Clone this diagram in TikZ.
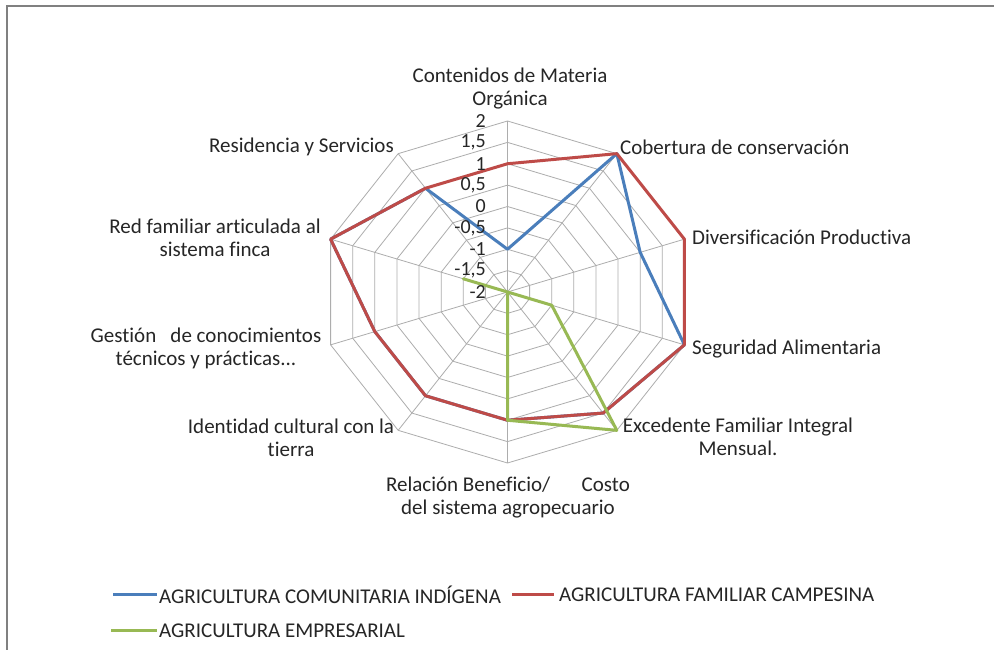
\documentclass[tikz,border=0pt]{standalone}
\usepackage{fontspec}
\setmainfont{Carlito}[Ligatures={NoCommon}]
\definecolor{serblue}{HTML}{4A7EBB}
\definecolor{serred}{HTML}{BE4B48}
\definecolor{sergreen}{HTML}{98B954}
\definecolor{gridc}{HTML}{ADADAD}
\definecolor{framec}{HTML}{808080}
\tikzset{
  gridline/.style={draw=gridc, line width=0.8pt},
  series/.style={line width=3pt, line join=round, line cap=round},
  cat/.style={font=\fontsize{21}{23}\selectfont, text=black!85, inner sep=0pt, align=center},
  tick/.style={font=\fontsize{20}{21}\selectfont, text=black!85, inner sep=0pt, anchor=east},
  legtext/.style={font=\fontsize{21}{22}\selectfont, text=black!85, inner sep=0pt, anchor=west},
}
\begin{document}
\begin{tikzpicture}[x=1pt,y=-1pt]
\useasboundingbox (0,0) rectangle (994,650);
\fill[white] (0,0) rectangle (994,650);
\def\cx{507.5}\def\cy{292}\def\rx{186}\def\ry{171}
\coordinate (O) at (\cx,\cy);
% grid rings
\foreach \k in {1,...,8}{
  \draw[gridline] ({\cx},{\cy-\ry*\k/8})
    \foreach \i in {1,...,9}{ -- ({\cx+\rx*\k/8*sin(36*\i)},{\cy-\ry*\k/8*cos(36*\i)}) } -- cycle;
}
% spokes
\foreach \i in {0,...,9}{
  \coordinate (A\i) at ({\cx+\rx*sin(36*\i)},{\cy-\ry*cos(36*\i)});
  \draw[gridline] (O) -- (A\i);
}
% series coordinates
\foreach \v [count=\i from 0] in {-1,2,1,2,1.5,1,1,1,2,1}{
  \coordinate (B\i) at ({\cx+\rx*(\v+2)/4*sin(36*\i)},{\cy-\ry*(\v+2)/4*cos(36*\i)});
}
\foreach \v [count=\i from 0] in {1,2,2,2,1.5,1,1,1,2,1}{
  \coordinate (R\i) at ({\cx+\rx*(\v+2)/4*sin(36*\i)},{\cy-\ry*(\v+2)/4*cos(36*\i)});
}
\foreach \v [count=\i from 0] in {-2,-2,-2,-1,2,1,-2,-2,-1,-2}{
  \coordinate (G\i) at ({\cx+\rx*(\v+2)/4*sin(36*\i)},{\cy-\ry*(\v+2)/4*cos(36*\i)});
}
\draw[series, serblue] (B0) \foreach \i in {1,...,9}{ -- (B\i) } -- cycle;
\draw[series, serred] (R0) \foreach \i in {1,...,9}{ -- (R\i) } -- cycle;
\draw[series, sergreen] (G0) \foreach \i in {1,...,9}{ -- (G\i) } -- cycle;
% tick labels
\foreach \t [count=\k from 0] in {-2,{-1,5},-1,{-0,5},0,{0,5},1,{1,5},2}{
  \node[tick] (t\k) at (486,{\cy-\ry*\k/8}) {\t};
}
% category labels
\node[cat] (c0) at (510,89) {Contenidos de Materia\\Orgánica};
\node[cat, anchor=west] (c1) at (620,147) {Cobertura de conservación};
\node[cat, anchor=west] (c2) at (692,237) {Diversificación Productiva};
\node[cat, anchor=west] (c3) at (692,349) {Seguridad Alimentaria};
\node[cat] (c4) at (738,437) {Excedente Familiar Integral\\Mensual.};
\node[cat] (c5) at (508,498) {Relación Beneficio/\hspace{1.5em}Costo\\del sistema agropecuario};
\node[cat] (c6) at (291,438) {Identidad cultural con la\\tierra};
\node[cat] (c7) at (206,348) {Gestión\hspace{0.45em} de conocimientos\\técnicos y prácticas...};
\node[cat] (c8) at (215,238) {Red familiar articulada al\\sistema finca};
\node[cat, anchor=east] (c9) at (394,147) {Residencia y Servicios};
% legend
\coordinate (l1a) at (113,594); \coordinate (l1b) at (157,594);
\coordinate (l2a) at (512,594); \coordinate (l2b) at (554,594);
\coordinate (l3a) at (111,630); \coordinate (l3b) at (157,630);
\draw[series, line cap=butt, serblue] (l1a) -- (l1b);
\draw[series, line cap=butt, serred] (l2a) -- (l2b);
\draw[series, line cap=butt, sergreen] (l3a) -- (l3b);
\node[legtext] (lt1) at (159,595) {AGRICULTURA COMUNITARIA INDÍGENA};
\node[legtext] (lt2) at (559,595) {AGRICULTURA FAMILIAR CAMPESINA};
\node[legtext] (lt3) at (159,631) {AGRICULTURA EMPRESARIAL};
% frame
\draw[framec, line width=1.5pt] (7,650) -- (7,6) -- (994,6);
\end{tikzpicture}
\end{document}
